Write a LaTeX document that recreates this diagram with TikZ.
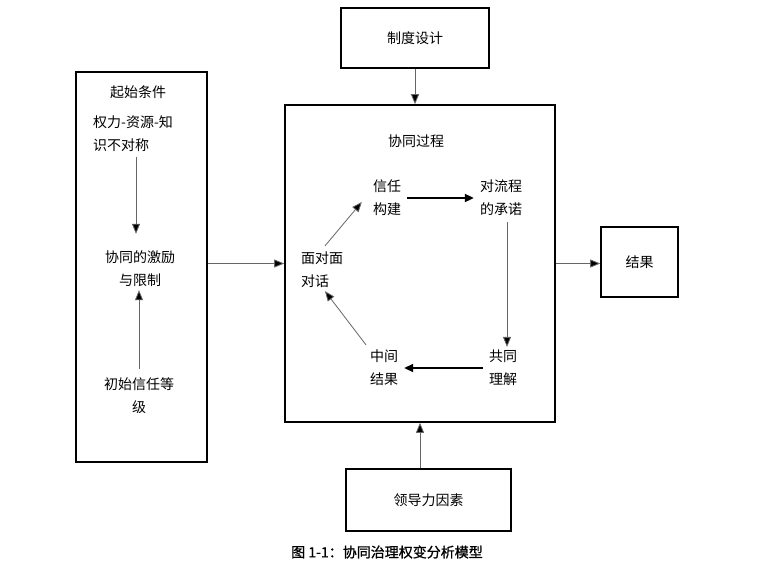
\documentclass[tikz,border=0pt]{standalone}
\usepackage{fontspec}
\setmainfont{Noto Sans CJK SC}
\usetikzlibrary{arrows.meta}

\begin{document}
\begin{tikzpicture}[x=1pt, y=-1pt, font=\fontsize{14}{23}\selectfont,
		box_style/.style={rectangle,draw=black,line width=1.6pt,fill=white,inner sep=0pt},
		text_style/.style={align=center,inner sep=3pt},
		edge_style/.style={draw=black!60,line width=0.8pt,-{Triangle[length=10pt,width=8pt,fill=black]}},
		thick_edge/.style={draw=black,line width=2pt,-{Triangle[length=9pt,width=8pt]}}]
		
		\useasboundingbox (0,0) rectangle (775,564);
		
		% boxes
		\node[box_style,minimum width=131,minimum height=390] (cond) at (141.5,267) {};
		\node[box_style,minimum width=270,minimum height=317] (proc) at (420,263.5) {};
		\node[box_style,minimum width=148,minimum height=60] (design) at (415,38) {制度设计};
		\node[box_style,minimum width=77,minimum height=70] (result) at (639.5,262) {结果};
		\node[box_style,minimum width=165,minimum height=62] (lead) at (428.5,500) {领导力因素};
		
		% left box
		\node[text_style] (condtitle) at (138,92) {起始条件};
		\node[text_style,align=left] (asym) at (133,134) {权力-资源-知\\识不对称};
		\node[text_style] (incent) at (140,269) {协同的激励\\与限制};
		\node[text_style] (trust0) at (139,396) {初始信任等\\级};
		
		% process box
		\node[text_style] (proctitle) at (416,141) {协同过程};
		\node[text_style] (trust) at (387,198) {信任\\构建};
		\node[text_style] (commit) at (501,198) {对流程\\的承诺};
		\node[text_style,align=left] (f2f) at (322,270) {面对面\\对话};
		\node[text_style] (interim) at (384,368) {中间\\结果};
		\node[text_style] (underst) at (503,368) {共同\\理解};
		
		\node[font=\fontsize{14}{16}\selectfont\addfontfeature{FakeBold=1}] (caption) at (387,552) {图 1-1：协同治理权变分析模型};
		
		\draw[edge_style]  ([xshift=3pt,yshift=-2pt]asym.south) -- ([xshift=-4pt,yshift=14pt]incent.north);
		\draw[edge_style]  ([yshift=6pt]trust0.north) -- (trust0.north |- incent.south);
		\draw[edge_style]  (cond.east |- proc.west) -- (proc.west);
		\draw[edge_style]  (design.south) -- (design.south |- proc.north);
		\draw[edge_style]  (lead.north -| proc.south) -- (proc.south);
		\draw[edge_style]  (proc.east) -- (proc.east -| result.west);
		
		\draw[edge_style]  ([xshift=3pt,yshift=3pt]f2f.north) -- ([xshift=-8pt,yshift=-4pt]trust.west);
		\draw[thick_edge]  ([xshift=3pt]trust.east) -- ([xshift=-3pt]commit.west);
		\draw[edge_style]  ([xshift=6pt,yshift=-3pt]commit.south) -- ([xshift=4pt]underst.north);
		\draw[thick_edge]  ([xshift=-3pt]underst.west) -- ([xshift=3pt]interim.west -| interim.east);
		\draw[edge_style]  ([xshift=-18pt,yshift=2pt]interim.north) -- ([xshift=3pt]f2f.south);
		
\end{tikzpicture}
\end{document}
